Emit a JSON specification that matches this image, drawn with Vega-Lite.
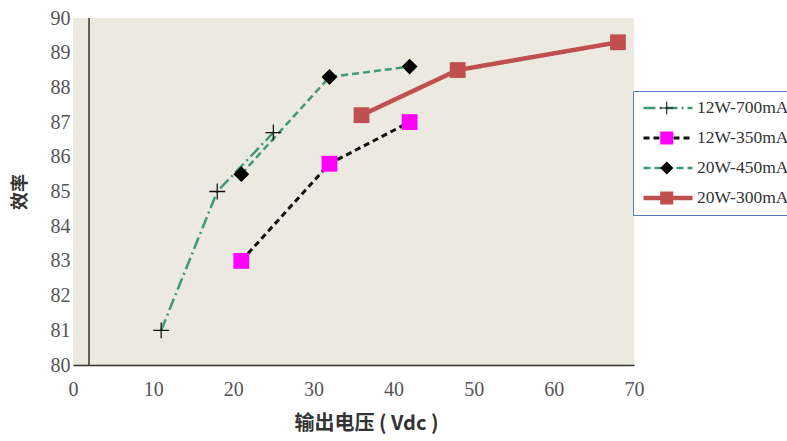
{
  "$schema": "https://vega.github.io/schema/vega-lite/v6.json",
  "width": 561,
  "height": 347,
  "autosize": {"type": "none"},
  "padding": {"left": 73, "top": 18, "right": 153, "bottom": 76},
  "background": "#ffffff",
  "config": {
    "view": {"fill": "#ECE9E0", "stroke": null},
    "axis": {"grid": false, "ticks": false, "labelFlush": false, "labelOverlap": false, "labelFont": "Liberation Serif", "labelFontSize": 20, "labelColor": "#555555", "titleFont": "Noto Sans CJK SC", "titleFontSize": 20, "titleFontWeight": "bold", "titleColor": "#333333"}
  },
  "data": {
    "values": [
      {"series": "12W-700mA", "x": 11, "y": 81.0},
      {"series": "12W-700mA", "x": 18, "y": 85.0},
      {"series": "12W-700mA", "x": 25, "y": 86.7},
      {"series": "12W-350mA", "x": 21, "y": 83.0},
      {"series": "12W-350mA", "x": 32, "y": 85.8},
      {"series": "12W-350mA", "x": 42, "y": 87.0},
      {"series": "20W-450mA", "x": 21, "y": 85.5},
      {"series": "20W-450mA", "x": 32, "y": 88.3},
      {"series": "20W-450mA", "x": 42, "y": 88.6},
      {"series": "20W-300mA", "x": 36, "y": 87.2},
      {"series": "20W-300mA", "x": 48, "y": 88.5},
      {"series": "20W-300mA", "x": 68, "y": 89.3}
    ]
  },
  "layer": [
    {
      "data": {"values": [{}]},
      "mark": {"type": "rule", "color": "#333333", "strokeWidth": 1.5},
      "encoding": {"x": {"datum": 2, "type": "quantitative"}}
    },
    {
      "mark": {"type": "line"},
      "encoding": {
        "x": {"field": "x", "type": "quantitative", "scale": {"domain": [0, 70], "nice": false, "zero": false},
              "axis": {"values": [0, 10, 20, 30, 40, 50, 60, 70], "domainColor": "#333333", "domainWidth": 1.5, "labelPadding": 14, "labelOverlap": false, "title": "输出电压 ( Vdc )", "titlePadding": 14, "titleX": 293, "titleAlign": "center"}},
        "y": {"field": "y", "type": "quantitative", "scale": {"domain": [80, 90], "nice": false, "zero": false},
              "axis": {"values": [80, 81, 82, 83, 84, 85, 86, 87, 88, 89, 90], "domain": false, "labelPadding": 3, "labelOverlap": false, "labelSeparation": 0, "tickCount": 11, "title": "效率", "titleFontSize": 18, "titlePadding": 21}},
        "stroke": {"field": "series", "type": "nominal", "sort": {"field": "y", "op": "min", "order": "ascending"},
                   "scale": {"range": ["#3d9a72", "#111111", "#3d9a72", "#c0504d"]},
                   "legend": {"orient": "none", "legendX": 560, "legendY": 73, "title": null, "strokeColor": "#5a78c0", "padding": 2, "rowPadding": 0, "clipHeight": 30, "symbolType": "stroke", "symbolSize": 2401, "symbolStrokeWidth": 3, "symbolOffset": 6, "labelFont": "Liberation Serif", "labelFontSize": 17.5, "labelColor": "#333333", "labelOffset": 2, "labelLimit": 300}},
        "strokeDash": {"field": "series", "type": "nominal", "sort": {"field": "y", "op": "min", "order": "ascending"},
                       "scale": {"range": [[12, 4, 2, 4], [6, 4], [7, 4], [1, 0]]}},
        "strokeWidth": {"field": "series", "type": "nominal", "sort": {"field": "y", "op": "min", "order": "ascending"},
                        "scale": {"type": "ordinal", "range": [2.5, 3, 2.5, 4.5]}}
      }
    },
    {
      "mark": {"type": "point", "filled": true, "opacity": 1, "size": 250, "strokeWidth": 0},
      "encoding": {
        "x": {"field": "x", "type": "quantitative"},
        "y": {"field": "y", "type": "quantitative"},
        "fill": {"field": "series", "type": "nominal",
                 "scale": {"domain": ["12W-700mA", "12W-350mA", "20W-450mA", "20W-300mA"], "range": ["#111111", "#ff00ff", "#000000", "#c0504d"]},
                 "legend": {"orient": "none", "legendX": 560, "legendY": 73, "title": null, "padding": 2, "rowPadding": 0, "clipHeight": 30, "symbolSize": 170, "symbolStrokeWidth": 0, "symbolOffset": 23, "labelFont": "Liberation Serif", "labelFontSize": 17.5, "labelExpr": "''", "labelLimit": 300}},
        "shape": {"field": "series", "type": "nominal",
                  "scale": {"domain": ["12W-700mA", "12W-350mA", "20W-450mA", "20W-300mA"], "range": ["M-1,-0.08H1V0.08H-1ZM-0.08,-1H0.08V1H-0.08Z", "square", "diamond", "square"]}}
      }
    }
  ]
}
